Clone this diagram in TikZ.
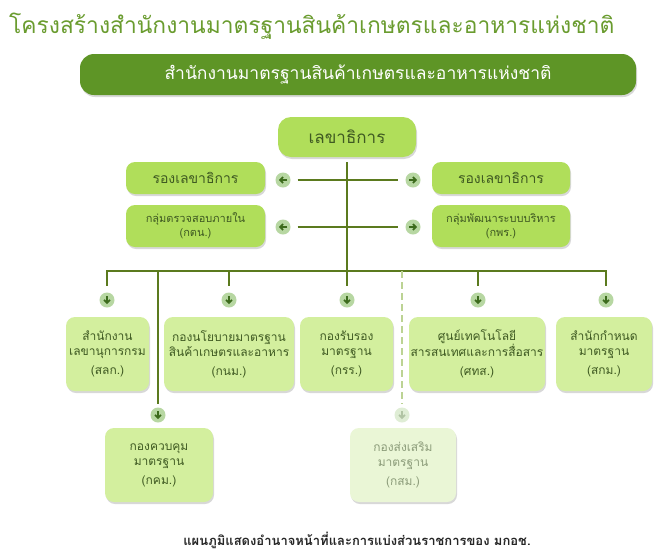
\documentclass[tikz,border=0pt]{standalone}
\usepackage{fontspec}
\newfontfamily\thai[Script=Thai]{Loma}
\usetikzlibrary{shadows,arrows.meta}

\definecolor{titlegreen}{HTML}{6A9C2F}
\definecolor{bannergreen}{HTML}{5E9526}
\definecolor{topgreen}{HTML}{B0DE5A}
\definecolor{lowgreen}{HTML}{D3EF9E}
\definecolor{palegreen}{HTML}{EAF6D6}
\definecolor{linegreen}{HTML}{5B7A1E}
\definecolor{dashgreen}{HTML}{BCD394}
\definecolor{dotgreen}{HTML}{B7D7A2}
\definecolor{arrowgreen}{HTML}{3C6B1C}
\definecolor{textgreen}{HTML}{3F5A22}

\tikzset{
  orgbox/.style={rounded corners=9pt, align=center, inner sep=0pt,
    text=textgreen, drop shadow={shadow xshift=1pt, shadow yshift=-2pt,
    opacity=.3, fill=gray}},
  topbox/.style={orgbox, fill=topgreen},
  lowbox/.style={orgbox, fill=lowgreen, minimum height=74pt,
    font=\thai\fontsize{12}{15}\selectfont},
  dot/.style={circle, fill=dotgreen, minimum size=15pt, inner sep=0pt},
  link/.style={draw=linegreen, line width=2.4pt},
  tip/.style={draw=arrowgreen, line width=1.8pt, -{Straight Barb[length=2.8pt,width=6pt]}}
}

\begin{document}
\begin{tikzpicture}[x=1pt,y=-1pt]

\useasboundingbox[fill=white] (0,0) rectangle (672,558);

%% heading
\node[anchor=base west, text=titlegreen, inner sep=0pt,
  font=\thai\fontsize{22.8}{28}\selectfont] (title) at (9,33)
  {โครงสร้างสำนักงานมาตรฐานสินค้าเกษตรและอาหารแห่งชาติ};
\node[orgbox, fill=bannergreen, text=white, rounded corners=14pt,
  minimum width=556pt, minimum height=41pt,
  font=\thai\fontsize{17.5}{20}\selectfont] (acfs) at (358,74.5)
  {สำนักงานมาตรฐานสินค้าเกษตรและอาหารแห่งชาติ};

%% secretary and deputies
\node[topbox, rounded corners=13pt, minimum width=138pt, minimum height=40pt,
  font=\thai\fontsize{17}{20}\selectfont] (sec) at (347,137) {เลขาธิการ};
\node[topbox, minimum width=139pt, minimum height=32pt,
  font=\thai\fontsize{14}{17}\selectfont] (depL) at (195.5,178) {รองเลขาธิการ};
\node[topbox, minimum width=138pt, minimum height=32pt,
  font=\thai\fontsize{14}{17}\selectfont] (depR) at (501,178) {รองเลขาธิการ};
\node[topbox, minimum width=139pt, minimum height=42pt,
  font=\thai\fontsize{11}{14}\selectfont] (ktn) at (195.5,226)
  {กลุ่มตรวจสอบภายใน\\(กตน.)};
\node[topbox, minimum width=138pt, minimum height=42pt,
  font=\thai\fontsize{11}{14}\selectfont] (kpr) at (501,226)
  {กลุ่มพัฒนาระบบบริหาร\\(กพร.)};

%% bureaus
\node[lowbox, minimum width=83pt] (slk) at (107.5,354)
  {สำนักงาน\\เลขานุการกรม\\[4pt](สลก.)};
\node[lowbox, minimum width=130pt] (knm) at (229,354)
  {กองนโยบายมาตรฐาน\\สินค้าเกษตรและอาหาร\\[4pt](กนม.)};
\node[lowbox, minimum width=93pt] (krr) at (346.5,354)
  {กองรับรอง\\มาตรฐาน\\[4pt](กรร.)};
\node[lowbox, minimum width=136pt] (sts) at (477,354)
  {ศูนย์เทคโนโลยี\\สารสนเทศและการสื่อสาร\\[4pt](ศทส.)};
\node[lowbox, minimum width=96pt] (skm) at (604,354)
  {สำนักกำหนด\\มาตรฐาน\\[4pt](สกม.)};
\node[lowbox, minimum width=108pt] (kkm) at (159,465)
  {กองควบคุม\\มาตรฐาน\\[4pt](กคม.)};
\node[lowbox, fill=palegreen, text=textgreen!60, minimum width=106pt] (ksm) at (403,465)
  {กองส่งเสริม\\มาตรฐาน\\[4pt](กสม.)};

%% arrow dots
\node[dot] (aDepL) at (283,180) {};
\node[dot] (aDepR) at (413,180) {};
\node[dot] (aKtn) at (283,227) {};
\node[dot] (aKpr) at (413,227) {};
\node[dot] (aSlk) at (107,300) {};
\node[dot] (aKnm) at (229,300) {};
\node[dot] (aKrr) at (347,300) {};
\node[dot] (aSts) at (478,300) {};
\node[dot] (aSkm) at (606,300) {};
\node[dot] (aKkm) at (158,415) {};
\node[dot, fill=dotgreen!45] (aKsm) at (402,415) {};

\coordinate (busL) at (107,271);
\coordinate (busR) at (606,271);

%% lines
\draw[link, shorten <=5pt, shorten >=6pt] (sec) -- (aKrr);
\draw[link, line width=2pt, shorten <=7pt, shorten >=7pt] (aDepL) -- (aDepR);
\draw[link, line width=2pt, shorten <=7pt, shorten >=7pt] (aKtn) -- (aKpr);
\draw[link, line cap=rect] (busL) -- (busR);
\foreach \a in {aSlk,aKnm,aSts,aSkm}
  \draw[link, shorten >=6pt] (\a |- busL) -- (\a);
\draw[link, shorten >=3pt] (aKkm |- busL) -- (aKkm);
\draw[draw=dashgreen, line width=2pt, dash pattern=on 7pt off 4pt, shorten >=3pt]
  (aKsm |- busL) -- (aKsm);

%% arrows in the dots
\foreach \a in {aSlk,aKnm,aKrr,aSts,aSkm,aKkm}
  \draw[tip] ([yshift=4pt]\a.center) -- ([yshift=-4pt]\a.center);
\draw[tip, draw=arrowgreen!40] ([yshift=4pt]aKsm.center) -- ([yshift=-4pt]aKsm.center);
\foreach \a in {aDepL,aKtn}
  \draw[tip] ([xshift=4pt]\a.center) -- ([xshift=-4pt]\a.center);
\foreach \a in {aDepR,aKpr}
  \draw[tip] ([xshift=-4pt]\a.center) -- ([xshift=4pt]\a.center);

%% caption
\node[font=\thai\bfseries\fontsize{13}{16}\selectfont, text=black!85] (note) at (357,540)
  {แผนภูมิแสดงอำนาจหน้าที่และการแบ่งส่วนราชการของ มกอช.};

\end{tikzpicture}
\end{document}
